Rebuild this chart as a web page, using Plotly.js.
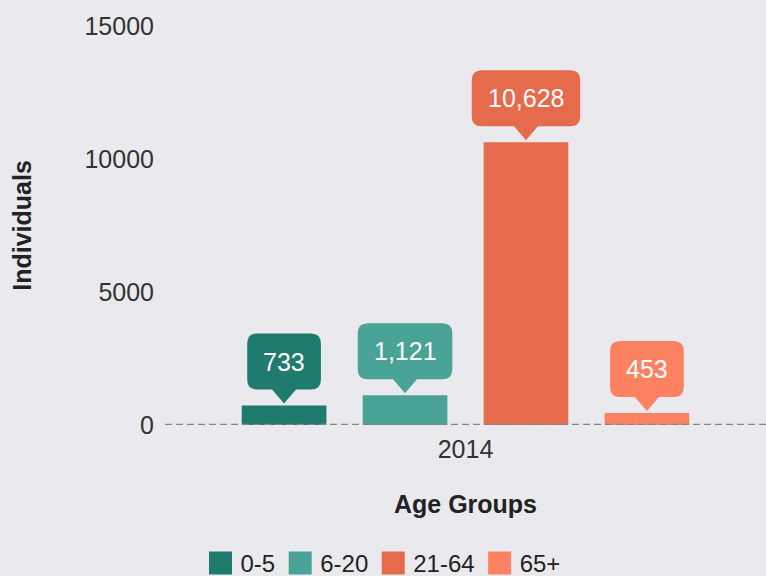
<!DOCTYPE html>
<html>
<head>
<meta charset="utf-8">
<script src="https://cdn.plot.ly/plotly-3.0.1.min.js"></script>
<style>html,body{margin:0;padding:0;background:#eae9ee;}#chart{width:766px;height:576px;}</style>
</head>
<body>
<div id="chart"></div>
<script>
// ---- data ----
const years = ['2014'];
const groups = ['0-5', '6-20', '21-64', '65+'];
const values = [733, 1121, 10628, 453];
const colors = ['#1f7b6e', '#4aa397', '#e66b4c', '#fd8262'];
const yTickVals = [0, 5000, 10000, 15000];

const FONT = 'Liberation Sans, Arial, sans-serif';
const FS = 25;
const bargap = 0.195;
const bargroupgap = 0.3;

const traces = groups.map((g, i) => ({
  type: 'bar',
  name: g,
  x: [0],
  y: [values[i]],
  marker: {color: colors[i]},
  hoverinfo: 'none'
}));

// measure text for callout widths
const ctx = document.createElement('canvas').getContext('2d');
ctx.font = FS + 'px ' + FONT;

const n = groups.length;
const groupW = 1 - bargap;
const slot = groupW / n;
const shapes = [];
const annotations = [];
const gap = 2, triH = 14, triW = 12, boxH = 56, r = 10;
groups.forEach((g, i) => {
  const cx = -groupW / 2 + slot * (i + 0.5);
  const label = values[i].toLocaleString('en-US');
  const w = ctx.measureText(label).width + 32;
  const hw = w / 2;
  const b = gap + triH, t = b + boxH;
  const path = `M0,${gap} L${triW},${b} L${hw - r},${b} Q${hw},${b} ${hw},${b + r} L${hw},${t - r} Q${hw},${t} ${hw - r},${t} L${-hw + r},${t} Q${-hw},${t} ${-hw},${t - r} L${-hw},${b + r} Q${-hw},${b} ${-hw + r},${b} L${-triW},${b} Z`;
  shapes.push({
    type: 'path', xref: 'x', yref: 'y',
    xsizemode: 'pixel', ysizemode: 'pixel',
    xanchor: cx, yanchor: values[i],
    path: path, fillcolor: colors[i], line: {width: 0}, layer: 'above'
  });
  annotations.push({
    xref: 'x', yref: 'y', x: cx, y: values[i],
    text: label, showarrow: false, yanchor: 'middle',
    yshift: b + boxH / 2,
    font: {family: FONT, size: FS, color: '#ffffff'}
  });
});

shapes.push({
  type: 'line', xref: 'paper', yref: 'y', x0: 0, x1: 1, y0: 0, y1: 0,
  line: {color: '#858585', width: 2.5, dash: '7px,4px'}, layer: 'above'
});

const layout = {
  width: 766, height: 576,
  paper_bgcolor: '#eae9ee', plot_bgcolor: '#eae9ee',
  margin: {l: 165, r: 0, t: 26, b: 151},
  barmode: 'group', bargap: bargap, bargroupgap: bargroupgap,
  font: {family: FONT, size: FS, color: '#333333'},
  showlegend: true,
  legend: {orientation: 'h', xref: 'container', yref: 'container', x: 0.5, xanchor: 'center',
           y: 0.022, yanchor: 'middle', font: {family: FONT, size: 24, color: '#222'}, bgcolor: 'rgba(0,0,0,0)'},
  xaxis: {
    type: 'linear', range: [-0.5, 0.5], tickvals: [0], ticktext: years,
    showgrid: false, zeroline: false, showline: false, ticks: '',
    ticklabelstandoff: 7,
    tickfont: {size: 25, color: '#333'},
    title: {text: '<b>Age Groups</b>', font: {size: 25, color: '#222'}, standoff: 33},
    fixedrange: true
  },
  yaxis: {
    range: [0, 15000], tickvals: yTickVals, ticktext: yTickVals.map(String),
    showgrid: false, zeroline: false, showline: false, ticks: '',
    ticklabelstandoff: 10,
    tickfont: {size: 25, color: '#333'},
    title: {text: '<b>Individuals</b>', font: {size: 25, color: '#222'}, standoff: 45},
    fixedrange: true
  },
  shapes: shapes,
  annotations: annotations
};

function fixLegend() {
  document.querySelectorAll('#chart .legend .legendpoints path').forEach(p => {
    p.setAttribute('d', 'M11.5,11.5H-11.5V-11.5H11.5Z');
  });
}
Plotly.newPlot('chart', traces, layout, {displayModeBar: false, staticPlot: true}).then(gd => {
  fixLegend();
  gd.on('plotly_afterplot', fixLegend);
  setTimeout(fixLegend, 0);
  setTimeout(fixLegend, 50);
  setTimeout(fixLegend, 200);
});
</script>
</body>
</html>
